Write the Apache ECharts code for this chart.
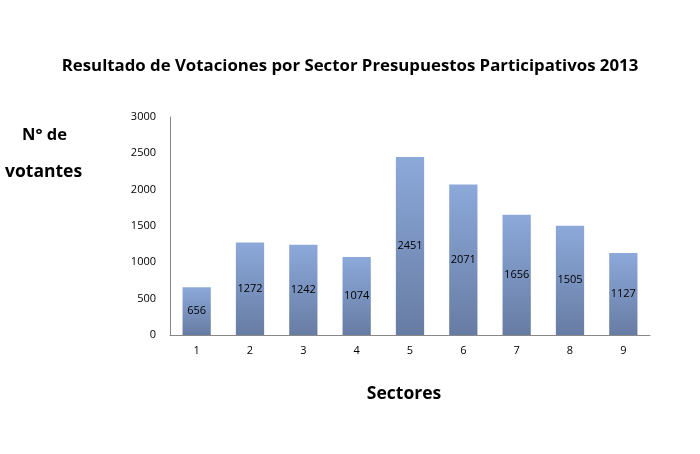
<!DOCTYPE html>
<html>
<head>
<meta charset="utf-8">
<script src="https://cdn.jsdelivr.net/npm/echarts@6/dist/echarts.min.js"></script>
<style>html,body{margin:0;padding:0;background:#fff;}#c{width:700px;height:454px;}</style>
</head>
<body>
<div id="c"></div>
<script>
var categories = ['1','2','3','4','5','6','7','8','9'];
var votantes = [656, 1272, 1242, 1074, 2451, 2071, 1656, 1505, 1127];
var titleText = 'Resultado de Votaciones por Sector Presupuestos Participativos 2013';
var yNameLines = ['N° de', 'votantes'];
var xName = 'Sectores';

var chart = echarts.init(document.getElementById('c'), null, {renderer:'canvas'});
chart.setOption({
  animation: false,
  backgroundColor: '#fff',
  title: {
    text: titleText,
    left: 345, top: 53, textAlign: 'center',
    textStyle: {fontFamily: 'Open Sans', fontWeight: 'bold', fontSize: 16.8, color: '#000'}
  },
  graphic: [
    {type:'text', left: 22, top: 127, style:{text:yNameLines[0], font:'bold 16.5px "Open Sans"', fill:'#000'}},
    {type:'text', left: 5, top: 163, style:{text:yNameLines[1], font:'bold 17.5px "Open Sans"', fill:'#000'}}
  ],
  grid: {left: 170, right: 50, top: 117, bottom: 119, containLabel: false},
  xAxis: {
    type: 'category',
    data: categories,
    name: xName,
    nameLocation: 'middle',
    nameGap: 50,
    nameTextStyle: {fontFamily: 'Open Sans', fontWeight: 'bold', fontSize: 17.5, color: '#000', padding:[0,12,0,0]},
    axisLine: {lineStyle: {color: '#888', width: 1}},
    axisTick: {show: false},
    axisLabel: {color: '#000', fontSize: 11, margin: 10, fontFamily: 'Open Sans'}
  },
  yAxis: {
    type: 'value',
    min: 0, max: 3000, interval: 500,
    axisLine: {show: true, lineStyle: {color: '#888', width: 1}},
    axisTick: {show: false},
    splitLine: {show: false},
    axisLabel: {color: '#000', fontSize: 11, margin: 14, fontFamily: 'Open Sans', formatter: function(v){ return String(v); }}
  },
  series: [{
    type: 'bar',
    data: votantes,
    barWidth: '53%',
    itemStyle: {
      color: new echarts.graphic.LinearGradient(0, 0, 0, 1, [
        {offset: 0, color: '#8CA9DA'},
        {offset: 1, color: '#677CA3'}
      ])
    },
    label: {show: true, position: 'inside', color: '#000', fontSize: 11, fontFamily: 'Open Sans'}
  }]
});
</script>
</body>
</html>
